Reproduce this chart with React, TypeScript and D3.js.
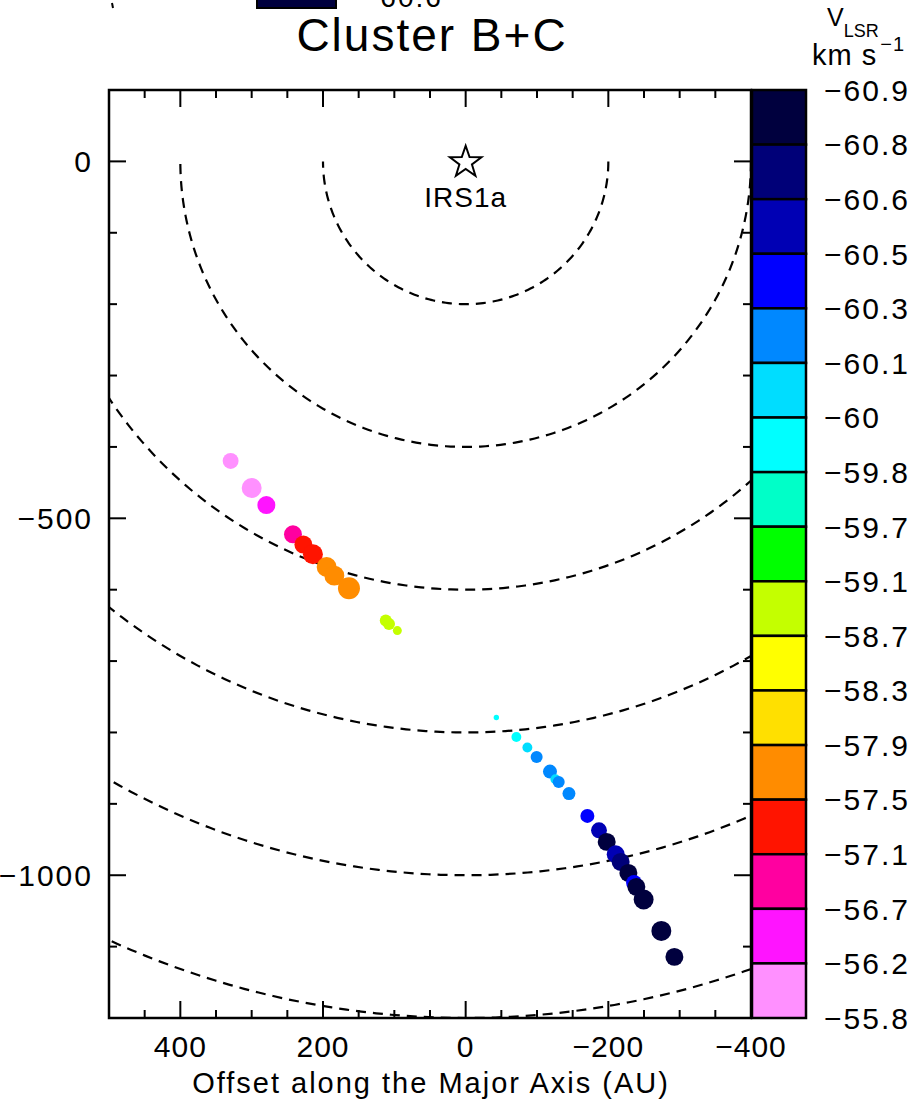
import React from "react";
import * as d3 from "d3";

// ---- data ----
const xTicksMajor = [400, 200, 0, -200, -400];
const yTicksMajor = [0, -500, -1000];
const ringRadii = [200, 400, 600, 800, 1000, 1200];
const binEdges = [-60.9, -60.8, -60.6, -60.5, -60.3, -60.1, -60, -59.8, -59.7, -59.1, -58.7, -58.3, -57.9, -57.5, -57.1, -56.7, -56.2, -55.8];
const binColors = ["#00003e", "#000078", "#0000b4", "#0000ff", "#0088ff", "#00ddff", "#00ffff", "#00ffc8", "#00ff00", "#c4ff00", "#ffff00", "#ffe000", "#ff8c00", "#ff1400", "#ff00a0", "#ff14ff", "#ff90ff"];

// spots: offset along major axis (AU), offset along minor axis (AU), V_LSR (km/s), relative flux
const spotX = [329.5, 300, 279.4, 242.1, 227.5, 214.1, 194.9, 184.1, 163.6, 112, 107.5, 95.8,
  -43, -71.1, -86.5, -99.5, -118.2, -125.8, -130.4, -144.8, -170.6, -186.9, -197.7, -210.3, -217.3, -228.1, -236, -239.3, -249.5, -274.3, -292.6];
const spotY = [-419.7, -457.6, -481.4, -522.4, -536.8, -550.4, -568.2, -580.3, -598.0, -643, -648, -657.3,
  -779.1, -806.3, -821.1, -834.3, -854.8, -865.5, -869.3, -885.6, -916.9, -937.0, -953.3, -970.6, -981.4, -996.8, -1010.7, -1016.3, -1034, -1078, -1114.4];
const spotV = [-56.0, -56.0, -56.4, -56.9, -57.3, -57.3, -57.7, -57.7, -57.7, -58.9, -58.9, -58.9,
  -59.9, -59.9, -60.05, -60.2, -60.2, -60.05, -60.2, -60.2, -60.4, -60.55, -60.85, -60.55, -60.7, -60.85, -60.4, -60.85, -60.85, -60.85, -60.85];
const spotFlux = [0.44, 0.69, 0.56, 0.56, 0.56, 0.69, 0.69, 0.69, 0.84, 0.25, 0.25, 0.14,
  0.05, 0.17, 0.17, 0.25, 0.34, 0.17, 0.25, 0.29, 0.34, 0.44, 0.56, 0.56, 0.56, 0.56, 0.44, 0.56, 0.69, 0.69, 0.56];

const W = 920, H = 1102;
const L = 109, R = 751, T = 90, B = 1018;
const FONT = "'Liberation Sans', Arial, sans-serif";

export default function App() {
  const x = d3.scaleLinear().domain([500, -400]).range([L, R]);
  const y = d3.scaleLinear().domain([100, -1200]).range([T, B]);
  const r = d3.scaleSqrt().domain([0, 1]).range([0, 12]);
  const color = d3.scaleThreshold<number, string>().domain(binEdges.slice(1, -1)).range(binColors);
  const cbY = d3.scaleLinear().domain([0, binColors.length]).range([T, B]);

  const xMinor = d3.range(-400, 501, 50);
  const yMinor = d3.range(-1200, 101, 100);

  const ringPath = (rad: number) => {
    const pts = d3.range(0, 181).map((i) => {
      const a = Math.PI + (i / 180) * Math.PI;
      return [rad * Math.cos(a), rad * Math.sin(a)] as [number, number];
    });
    return d3.line<[number, number]>().x((p) => x(p[0])).y((p) => y(p[1]))(pts) || "";
  };

  const starPts = d3.range(10).map((i) => {
    const rr = i % 2 === 0 ? 16.6 : 6.6;
    const a = (i * Math.PI) / 5 - Math.PI / 2;
    return [x(0) + rr * Math.cos(a), y(0) + 1 + rr * Math.sin(a)] as [number, number];
  });
  const starPath = d3.line()(starPts) + "Z";

  const spots = spotX.map((sx, i) => ({ x: sx, y: spotY[i], v: spotV[i], f: spotFlux[i] }));
  const fmt = (v: number) => (v < 0 ? "−" + Math.abs(v) : String(v));

  return (
    <svg width={W} height={H} style={{ position: "absolute", left: 0, top: 0 }} fontFamily={FONT}>
      <rect width={W} height={H} fill="#fff" />
      {/* remnants of panel above */}
      <rect x={257} y={-10} width={79} height={18} fill="#00003e" stroke="#000" strokeWidth={2} />
      <text x={362} y={7} fontSize={28} letterSpacing={2}>−60.6</text>
      <line x1={112} y1={3} x2={113} y2={8} stroke="#000" strokeWidth={2} />

      <text x={(L + R) / 2 + 2} y={51} fontSize={46} letterSpacing={2} textAnchor="middle">Cluster B+C</text>

      <defs>
        <clipPath id="plotclip"><rect x={L} y={T} width={R - L} height={B - T} /></clipPath>
      </defs>
      <g clipPath="url(#plotclip)">
        {ringRadii.map((rad) => (
          <path key={rad} d={ringPath(rad)} fill="none" stroke="#000" strokeWidth={2.2} strokeDasharray="10,7" />
        ))}
      </g>

      <path d={starPath} fill="none" stroke="#000" strokeWidth={2} strokeLinejoin="miter" />
      <text x={x(0)} y={207} fontSize={28} letterSpacing={1} textAnchor="middle">IRS1a</text>

      {spots.map((s, i) => (
        <circle key={i} cx={x(s.x)} cy={y(s.y)} r={r(s.f)} fill={color(s.v)} />
      ))}

      {/* axes frame */}
      <rect x={L} y={T} width={R - L} height={B - T} fill="none" stroke="#000" strokeWidth={2.5} />
      {xMinor.map((v) => {
        const major = v % 200 === 0;
        const len = major ? 17 : 8;
        return (
          <g key={"xt" + v}>
            <line x1={x(v)} x2={x(v)} y1={B} y2={B - len} stroke="#000" strokeWidth={2} />
            <line x1={x(v)} x2={x(v)} y1={T} y2={T + len} stroke="#000" strokeWidth={2} />
          </g>
        );
      })}
      {yMinor.map((v) => {
        const major = v % 500 === 0;
        const len = major ? 17 : 8;
        return (
          <g key={"yt" + v}>
            <line x1={L} x2={L + len} y1={y(v)} y2={y(v)} stroke="#000" strokeWidth={2} />
            <line x1={R} x2={R - len} y1={y(v)} y2={y(v)} stroke="#000" strokeWidth={2} />
          </g>
        );
      })}
      {xTicksMajor.map((v) => (
        <text key={"xl" + v} x={x(v)} y={1057} fontSize={30} letterSpacing={1} textAnchor="middle">{fmt(v)}</text>
      ))}
      {yTicksMajor.map((v) => (
        <text key={"yl" + v} x={93} y={y(v)} dy="0.36em" fontSize={30} letterSpacing={2} textAnchor="end">{fmt(v)}</text>
      ))}
      <text x={(L + R) / 2 + 1} y={1093} fontSize={29} letterSpacing={2} textAnchor="middle">Offset along the Major Axis (AU)</text>

      {/* colour bar */}
      {binColors.map((c, i) => (
        <rect key={"cb" + i} x={752} y={cbY(i)} width={54} height={cbY(i + 1) - cbY(i)} fill={c} stroke="#000" strokeWidth={2.5} />
      ))}
      {binEdges.map((v, i) => (
        <text key={"cbl" + i} x={824} y={cbY(i)} dy="0.36em" fontSize={30} letterSpacing={2}>{fmt(v)}</text>
      ))}
      <text x={827} y={26} fontSize={25}>V<tspan fontSize={18} dy={11}>LSR</tspan></text>
      <text x={812} y={65} fontSize={29} letterSpacing={1}>km s<tspan fontSize={20} dy={-14} dx={3}>−1</tspan></text>
    </svg>
  );
}
